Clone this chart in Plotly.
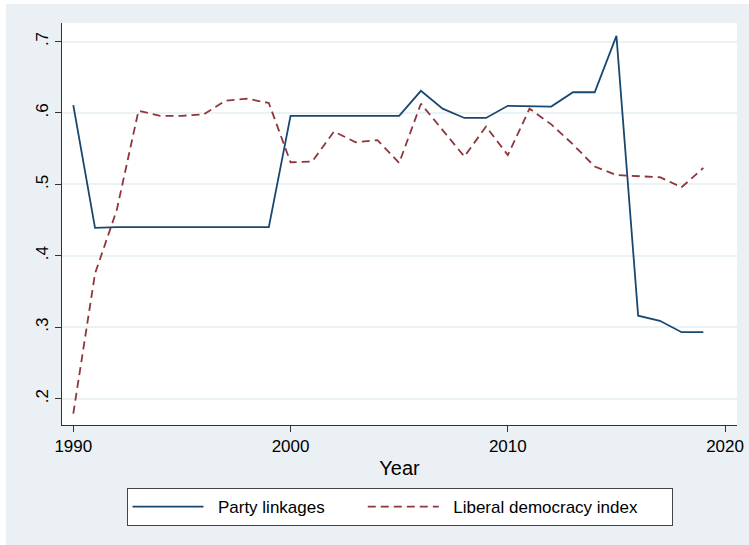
import plotly.graph_objects as go

years = list(range(1990, 2020))
party_linkages = [0.611, 0.439, 0.44, 0.44, 0.44, 0.44, 0.44, 0.44, 0.44, 0.44,
                  0.596, 0.596, 0.596, 0.596, 0.596, 0.596, 0.631, 0.606, 0.593, 0.593,
                  0.610, 0.609, 0.609, 0.629, 0.629, 0.708, 0.316, 0.309, 0.293, 0.293]
liberal_democracy = [0.179, 0.375, 0.464, 0.603, 0.596, 0.596, 0.598, 0.617, 0.620, 0.614,
                     0.531, 0.532, 0.574, 0.559, 0.562, 0.530, 0.613, 0.576, 0.539, 0.581,
                     0.541, 0.606, 0.584, 0.556, 0.525, 0.513, 0.512, 0.510, 0.496, 0.523]
x_ticks = [1990, 2000, 2010, 2020]
y_ticks = [0.2, 0.3, 0.4, 0.5, 0.6, 0.7]
y_tick_labels = [".2", ".3", ".4", ".5", ".6", ".7"]

BG = "#EAF0F4"
GRID = "#EAF2F3"
FONT = "Liberation Sans, Arial, Helvetica, sans-serif"
NB = "\u00a0"

fig = go.Figure()
fig.add_trace(go.Scatter(x=years, y=party_linkages, mode="lines",
                         name=NB * 2 + "Party linkages" + NB * 7,
                         line=dict(color="#1a476f", width=1.8)))
fig.add_trace(go.Scatter(x=years, y=liberal_democracy, mode="lines",
                         name=NB * 2 + "Liberal democracy index" + NB * 6,
                         line=dict(color="#90353b", width=1.8, dash="8px,5px")))

W, H = 749, 545
ml, mr, mt, mb = 62, 12, 23, 120
pw = W - ml - mr
ph = H - mt - mb

fig.update_layout(
    width=W, height=H,
    margin=dict(l=ml, r=mr, t=mt, b=mb, pad=0, autoexpand=False),
    paper_bgcolor=BG,
    plot_bgcolor="white",
    font=dict(family=FONT, size=17, color="black"),
    showlegend=True,
    legend=dict(orientation="h", x=0.5, xanchor="center", y=(mt + ph - 488) / ph, yanchor="top",
                bgcolor="white", bordercolor="#444444", borderwidth=1,
                font=dict(size=17), itemwidth=71, tracegroupgap=0),
    xaxis=dict(range=[1989.48, 2020.55], tickvals=x_ticks, ticks="outside", ticklen=6,
               tickcolor="#333333", showline=True, linecolor="#333333", linewidth=1,
               showgrid=False, zeroline=False, title=dict(text="Year", standoff=5),
               tickfont=dict(size=17), automargin=False),
    yaxis=dict(range=[0.163, 0.726], tickvals=y_ticks, ticktext=y_tick_labels, ticks="outside",
               ticklen=6, tickcolor="#333333", showline=True, linecolor="#333333", linewidth=1,
               showgrid=True, gridcolor=GRID, gridwidth=1.5, zeroline=False, tickangle=-90,
               tickfont=dict(size=17), automargin=False),
    shapes=[
        dict(type="rect", xref="paper", yref="paper", x0=-(ml + 2) / pw, x1=-(ml - 6) / pw,
             y0=-(mb + 2) / ph, y1=1 + (mt + 2) / ph, fillcolor="white", line=dict(width=0), layer="below"),
        dict(type="rect", xref="paper", yref="paper", x0=-(ml + 2) / pw, x1=1 + (mr + 2) / pw,
             y0=1 + (mt - 4) / ph, y1=1 + (mt + 2) / ph, fillcolor="white", line=dict(width=0), layer="below"),
    ],
)

fig.write_html("out.html", config={"displayModeBar": False},
               post_script="document.body.style.margin='0px';")
